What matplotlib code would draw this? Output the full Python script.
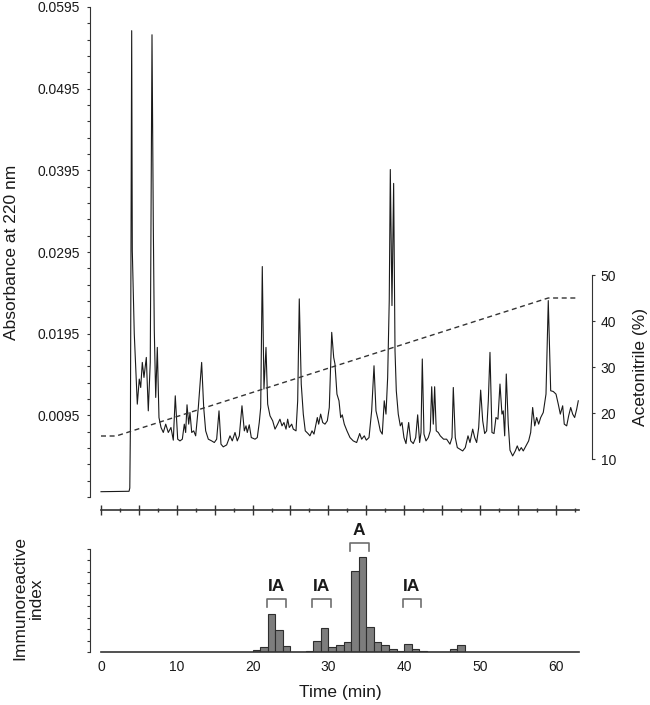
import matplotlib
matplotlib.use('Agg')
import matplotlib.pyplot as plt
from matplotlib.ticker import FixedLocator, FormatStrFormatter

plt.rcParams['font.family'] = ['Liberation Sans', 'DejaVu Sans']

# ---- chromatogram (time in min, absorbance at 220 nm) ----
time = [0.0, 3.7, 3.8, 3.88, 4.05, 4.13, 4.39, 4.79, 5.05, 5.24, 5.45, 5.67, 5.98, 6.24,
        6.5, 6.73, 6.9, 7.03, 7.22, 7.43, 7.65, 7.92, 8.22, 8.54, 8.88, 9.23, 9.54, 9.8,
        10.12, 10.42, 10.73, 10.99, 11.17, 11.35, 11.57, 11.74, 11.97, 12.23, 12.49, 12.84,
        13.28, 13.55, 13.81, 14.16, 14.6, 14.95, 15.26, 15.57, 15.83, 16.13, 16.58, 17.02,
        17.32, 17.68, 17.98, 18.25, 18.6, 18.91, 19.13, 19.3, 19.56, 19.83, 20.32, 20.62,
        20.88, 21.07, 21.28, 21.5, 21.77, 21.99, 22.3, 22.65, 22.96, 23.26, 23.61, 23.88,
        24.14, 24.41, 24.63, 24.84, 25.16, 25.37, 25.73, 25.95, 26.16, 26.42, 26.69, 26.95,
        27.31, 27.57, 27.84, 28.1, 28.36, 28.54, 28.72, 28.98, 29.25, 29.55, 29.86, 30.12,
        30.44, 30.7, 30.87, 31.13, 31.4, 31.62, 31.83, 32.1, 32.45, 32.85, 33.28, 33.73,
        34.13, 34.39, 34.74, 35.0, 35.36, 35.71, 36.02, 36.28, 36.58, 36.85, 37.11, 37.37,
        37.6, 37.82, 38.03, 38.17, 38.39, 38.61, 38.79, 38.96, 39.22, 39.49, 39.71, 39.97,
        40.24, 40.59, 40.86, 41.2, 41.52, 41.78, 42.04, 42.22, 42.39, 42.61, 42.88, 43.18,
        43.44, 43.63, 43.84, 44.02, 44.23, 44.5, 44.76, 45.2, 45.6, 46.04, 46.31, 46.48,
        46.74, 47.01, 47.36, 47.72, 48.06, 48.42, 48.68, 49.04, 49.3, 49.56, 49.83, 50.09,
        50.36, 50.62, 50.88, 51.1, 51.32, 51.58, 51.85, 52.11, 52.37, 52.64, 52.9, 53.07,
        53.26, 53.47, 53.73, 53.96, 54.31, 54.66, 54.92, 55.18, 55.45, 55.71, 56.07, 56.42,
        56.69, 56.95, 57.22, 57.48, 57.74, 58.01, 58.35, 58.71, 59.01, 59.33, 59.67, 60.03,
        60.33, 60.6, 60.91, 61.12, 61.44, 61.7, 61.97, 62.23, 62.49, 62.76, 62.97]
absorbance = [0.00015, 0.0002, 0.0006, 0.008, 0.0566, 0.0297, 0.0195, 0.01087, 0.01394, 0.01291,
              0.01598, 0.01414, 0.01659, 0.01005, 0.016, 0.0561, 0.033, 0.0200, 0.01169, 0.01782,
              0.00923, 0.00801, 0.0074, 0.00842, 0.0074, 0.00801, 0.00646, 0.01189, 0.00658,
              0.00637, 0.00658, 0.00842, 0.0074, 0.01079, 0.00842, 0.00985, 0.0074, 0.0076,
              0.00699, 0.01046, 0.01598, 0.01046, 0.0076, 0.00658, 0.00637, 0.00617, 0.00658,
              0.01005, 0.00597, 0.00564, 0.00588, 0.00699, 0.00637, 0.0074, 0.00637, 0.00699,
              0.01067, 0.0076, 0.00821, 0.0074, 0.00834, 0.00678, 0.00658, 0.00678, 0.00862,
              0.01046, 0.02772, 0.01272, 0.01782, 0.01087, 0.00944, 0.00883, 0.00781, 0.00834,
              0.00903, 0.00821, 0.00862, 0.00781, 0.00903, 0.00801, 0.00842, 0.00781, 0.0076,
              0.01128, 0.02376, 0.01333, 0.00965, 0.0076, 0.00727, 0.00699, 0.0076, 0.0072,
              0.00842, 0.00923, 0.00842, 0.00965, 0.00862, 0.00842, 0.00883, 0.01046, 0.01966,
              0.01659, 0.01578, 0.0121, 0.01128, 0.00923, 0.00956, 0.00842, 0.0076, 0.00678,
              0.00637, 0.00617, 0.00727, 0.00658, 0.00699, 0.00646, 0.00678, 0.01005, 0.01557,
              0.01005, 0.00883, 0.0076, 0.0072, 0.01128, 0.00965, 0.01414, 0.02355, 0.0396,
              0.02294, 0.0379, 0.01741, 0.01251, 0.00965, 0.00821, 0.00862, 0.00678, 0.00604,
              0.00862, 0.00637, 0.00604, 0.00678, 0.00956, 0.00617, 0.0074, 0.0164, 0.0072,
              0.00637, 0.00678, 0.0076, 0.013, 0.00842, 0.013, 0.0076, 0.0074, 0.00699, 0.00658,
              0.00658, 0.00597, 0.00678, 0.01291, 0.00678, 0.00555, 0.00535, 0.00514, 0.00555,
              0.00699, 0.00617, 0.00781, 0.00678, 0.00617, 0.00801, 0.01259, 0.00883, 0.00727,
              0.0076, 0.01128, 0.01721, 0.0074, 0.00727, 0.00923, 0.00903, 0.01333, 0.00965,
              0.01005, 0.00699, 0.01456, 0.00842, 0.00523, 0.00453, 0.00514, 0.00576, 0.00514,
              0.00555, 0.00514, 0.00576, 0.00637, 0.0074, 0.01046, 0.00821, 0.00923, 0.00842,
              0.00923, 0.00985, 0.0121, 0.02355, 0.01251, 0.01242, 0.0121, 0.01087, 0.00965,
              0.01067, 0.00842, 0.00821, 0.00944, 0.01046, 0.00965, 0.00923, 0.01026, 0.01128]

# ---- acetonitrile gradient ----
grad_time = [0, 2, 59, 63]
grad_pct = [15, 15, 45, 45]

# ---- immunoreactive index (1-min fractions, start time) ----
frac_start = [20, 21, 22, 23, 24, 25, 26, 27, 28, 29, 30, 31, 32, 33, 34, 35, 36, 37, 38,
              39, 40, 41, 42, 43, 44, 45, 46, 47]
immuno = [0.15, 0.44, 3.3, 1.9, 0.5, 0.0, 0.0, 0.1, 1.0, 2.1, 0.4, 0.6, 0.85, 7.1, 8.3, 2.2,
          0.88, 0.61, 0.26, 0.05, 0.7, 0.29, 0.1, 0.0, 0.0, 0.0, 0.26, 0.61]

# ---- bracket annotations ----
br_labels = ['IA', 'IA', 'A', 'IA']
br_start = [21.9, 27.9, 32.8, 39.8]
br_end = [24.4, 30.3, 35.3, 42.2]
br_level = [4.63, 4.63, 9.53, 4.63]

abs_major = [0.0095, 0.0195, 0.0295, 0.0395, 0.0495, 0.0595]
pct_ticks = [10, 20, 30, 40, 50]
time_ticks = [0, 10, 20, 30, 40, 50, 60]

W, H = 650, 705
fig = plt.figure(figsize=(W / 100, H / 100), dpi=100)
TXT = '#1a1a1a'
SP = '#333333'

xl = (-1.45, 64.74)
ax = fig.add_axes([90 / W, 1 - 497 / H, (591.7 - 90) / W, 490 / H])
ax.plot(time, absorbance, color='#1a1a1a', lw=0.8)
ax.set_xlim(*xl)
ax.set_ylim(-0.0005, 0.0595)
for s in ['top', 'right']:
    ax.spines[s].set_visible(False)
ax.spines['left'].set_color(SP)
ax.spines['bottom'].set_color(SP)
ax.spines['bottom'].set_linewidth(1.2)
ax.spines['bottom'].set_position(('outward', 9.4))
ax.spines['bottom'].set_bounds(0, 63)
ax.yaxis.set_major_locator(FixedLocator(abs_major))
ax.yaxis.set_minor_locator(FixedLocator([-0.0005 + 0.002 * k for k in range(31)]))
ax.yaxis.set_major_formatter(FormatStrFormatter('%.4f'))
ax.tick_params(axis='y', which='both', direction='out', length=2.5, width=0.8, color=SP,
               labelsize=10, labelcolor=TXT, pad=5)
ax.xaxis.set_major_locator(FixedLocator([5 * k for k in range(13)]))
ax.xaxis.set_minor_locator(FixedLocator([2.5 + 5 * k for k in range(13)]))
ax.tick_params(axis='x', which='major', direction='inout', length=7, width=1, color=SP,
               labelbottom=False)
ax.tick_params(axis='x', which='minor', direction='inout', length=3.5, width=1, color=SP)

ax2 = ax.twinx()
ax2.plot(grad_time, grad_pct, color='#333333', lw=1.0, dashes=(3.6, 2.6))
ax2.set_xlim(*xl)
ax2.set_ylim(1.74, 108.26)
for s in ['top', 'left', 'bottom']:
    ax2.spines[s].set_visible(False)
ax2.spines['right'].set_bounds(10, 50)
ax2.spines['right'].set_color(SP)
ax2.set_yticks(pct_ticks)
ax2.tick_params(axis='y', direction='out', length=2.5, width=0.8, color=SP, labelsize=10,
                labelcolor=TXT, pad=4)

axb = fig.add_axes([90 / W, 1 - 652 / H, (591.7 - 90) / W, 103 / H])
axb.bar(frac_start, immuno, width=1, align='edge', color='#7d7d7d', edgecolor='#2e2e2e',
        linewidth=0.8)
axb.set_xlim(*xl)
axb.set_ylim(0, 9)
for s in ['top', 'right']:
    axb.spines[s].set_visible(False)
axb.spines['bottom'].set_bounds(0, 63)
axb.spines['bottom'].set_linewidth(1.2)
axb.spines['bottom'].set_color(SP)
axb.spines['left'].set_color(SP)
axb.set_yticks(range(10))
axb.set_yticklabels([])
axb.tick_params(axis='y', direction='out', length=2.5, width=0.8, color=SP)
axb.set_xticks(time_ticks)
axb.tick_params(axis='x', length=0, pad=6, labelsize=10, labelcolor=TXT)

for lab, x0, x1, lv in zip(br_labels, br_start, br_end, br_level):
    axb.plot([x0, x0, x1, x1], [lv - 0.7, lv, lv, lv - 0.7], color='#6e6e6e', lw=1.2,
             clip_on=False)
    axb.text((x0 + x1) / 2, lv + 0.45, lab, ha='center', va='bottom', fontsize=12.5,
             fontweight='bold', color=TXT, clip_on=False)

fig.text(12 / W, 1 - 252 / H, 'Absorbance at 220 nm', rotation=90, ha='center', va='center',
         fontsize=12.5, color=TXT)
fig.text(640 / W, 1 - 367 / H, 'Acetonitrile (%)', rotation=90, ha='center', va='center',
         fontsize=12.5, color=TXT)
fig.text(28 / W, 1 - 598 / H, 'Immunoreactive\nindex', rotation=90, ha='center',
         va='center', fontsize=12.5, color=TXT, linespacing=1.1, multialignment='center')
fig.text(340 / W, 1 - 692 / H, 'Time (min)', ha='center', va='center', fontsize=12.5,
         color=TXT)

fig.savefig('out.png', dpi=100)
